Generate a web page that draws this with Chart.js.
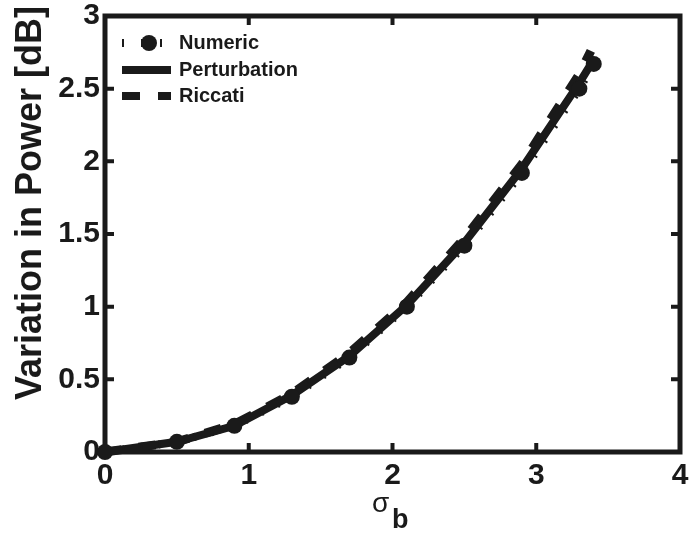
<!DOCTYPE html>
<html>
<head>
<script src="https://cdn.jsdelivr.net/npm/chart.js"></script>
<style>
  body { margin: 0; background: #fff; }
</style>
</head>
<body>
<canvas id="power" width="690" height="537"></canvas>
<script>
// values
var sigmaB       = [0, 0.5, 0.9, 1.3, 1.7, 2.1, 2.5, 2.9, 3.3, 3.4];
var numeric      = [0, 0.07, 0.18, 0.38, 0.65, 1.0, 1.42, 1.92, 2.5, 2.67];
var perturbation = [0, 0.07, 0.18, 0.39, 0.66, 1.01, 1.44, 1.95, 2.54, 2.7];
var riccatiX     = [0, 0.5, 0.9, 1.3, 1.7, 2.1, 2.5, 2.9, 3.3, 3.38];
var riccati      = [0, 0.07, 0.19, 0.40, 0.68, 1.03, 1.47, 1.98, 2.6, 2.76];
var xTicks = [0, 1, 2, 3, 4];
var yTicks = [0, 0.5, 1, 1.5, 2, 2.5, 3];
var legendNames = ['Numeric', 'Perturbation', 'Riccati'];

var ink = '#1a1a1a';
var fam = '"Liberation Sans", Arial, Helvetica, sans-serif';

function pts(xs, ys) {
    return xs.map(function (x, i) { return { x: x, y: ys[i] }; });
}

// box, inward ticks, axis titles and legend drawn MATLAB style
var decor = {
    id: 'decor',
    afterDraw: function (chart) {
        var ctx = chart.ctx, a = chart.chartArea;
        var xs = chart.scales.x, ys = chart.scales.y;
        ctx.save();
        ctx.strokeStyle = ink;
        ctx.fillStyle = ink;
        ctx.lineWidth = 5;
        ctx.strokeRect(a.left, a.top, a.right - a.left, a.bottom - a.top);
        ctx.lineWidth = 4;
        ctx.beginPath();
        xTicks.forEach(function (v) {
            var px = xs.getPixelForValue(v);
            ctx.moveTo(px, a.bottom); ctx.lineTo(px, a.bottom - 9);
            ctx.moveTo(px, a.top); ctx.lineTo(px, a.top + 9);
        });
        yTicks.forEach(function (v) {
            var py = ys.getPixelForValue(v);
            ctx.moveTo(a.left, py); ctx.lineTo(a.left + 9, py);
            ctx.moveTo(a.right, py); ctx.lineTo(a.right - 9, py);
        });
        ctx.stroke();

        // y title
        ctx.save();
        ctx.translate(31, 203);
        ctx.rotate(-Math.PI / 2);
        ctx.font = 'bold 36px ' + fam;
        ctx.textAlign = 'center';
        ctx.textBaseline = 'middle';
        ctx.fillText('Variation in Power [dB]', 0, 0);
        ctx.restore();

        // x title: sigma with subscript b
        ctx.textAlign = 'left';
        ctx.textBaseline = 'alphabetic';
        ctx.font = '28px ' + fam;
        ctx.fillText('σ', 372, 512);
        ctx.font = 'bold 27px ' + fam;
        ctx.fillText('b', 392, 528);

        // legend
        var rows = [43, 70, 96], x0 = 122, x1 = 171;
        ctx.lineWidth = 8;
        ctx.lineCap = 'butt';
        // Numeric
        ctx.setLineDash([2, 17]);
        ctx.beginPath(); ctx.moveTo(x0, rows[0]); ctx.lineTo(x1, rows[0]); ctx.stroke();
        ctx.setLineDash([]);
        ctx.beginPath(); ctx.arc(149, rows[0], 8, 0, Math.PI * 2); ctx.fill();
        // Perturbation
        ctx.beginPath(); ctx.moveTo(x0, rows[1]); ctx.lineTo(x1, rows[1]); ctx.stroke();
        // Riccati
        ctx.setLineDash([18, 18]);
        ctx.beginPath(); ctx.moveTo(x0, rows[2]); ctx.lineTo(x1, rows[2]); ctx.stroke();
        ctx.setLineDash([]);
        ctx.font = 'bold 20px ' + fam;
        ctx.textBaseline = 'middle';
        legendNames.forEach(function (n, i) { ctx.fillText(n, 179, rows[i]); });
        ctx.restore();
    }
};

new Chart(document.getElementById('power'), {
    type: 'line',
    data: {
        datasets: [{
            label: legendNames[0],
            data: pts(sigmaB, numeric),
            borderColor: ink,
            backgroundColor: ink,
            borderWidth: 8,
            borderDash: [2, 16],
            pointRadius: 8,
            pointBorderWidth: 0,
            pointBackgroundColor: ink
        }, {
            label: legendNames[1],
            data: pts(sigmaB, perturbation),
            borderColor: ink,
            borderWidth: 8,
            pointRadius: 0
        }, {
            label: legendNames[2],
            data: pts(riccatiX, riccati),
            borderColor: ink,
            borderWidth: 9,
            borderDash: [17, 17],
            pointRadius: 0
        }]
    },
    options: {
        responsive: false,
        animation: false,
        clip: false,
        layout: { padding: { top: 16, right: 10, left: 0, bottom: 0 } },
        plugins: { legend: { display: false }, tooltip: { enabled: false } },
        elements: { line: { tension: 0 } },
        scales: {
            x: {
                type: 'linear', min: 0, max: 4,
                grid: { display: false, drawTicks: false },
                border: { display: false },
                afterFit: function (s) { s.height = 85; s.paddingLeft = 0; s.paddingRight = 0; },
                afterBuildTicks: function (s) { s.ticks = xTicks.map(function (v) { return { value: v }; }); },
                ticks: { color: ink, padding: 9, maxRotation: 0, autoSkip: false,
                         callback: function (v) { return String(v); },
                         font: { family: fam, size: 30, weight: 'bold', lineHeight: 1 } }
            },
            y: {
                type: 'linear', min: 0, max: 3,
                grid: { display: false, drawTicks: false },
                border: { display: false },
                afterFit: function (s) { s.width = 105; s.paddingTop = 0; s.paddingBottom = 0; },
                afterBuildTicks: function (s) { s.ticks = yTicks.map(function (v) { return { value: v }; }); },
                ticks: { color: ink, padding: 5, autoSkip: false,
                         callback: function (v) { return String(v); },
                         font: { family: fam, size: 30, weight: 'bold', lineHeight: 1 } }
            }
        }
    },
    plugins: [decor]
});
</script>
</body>
</html>
